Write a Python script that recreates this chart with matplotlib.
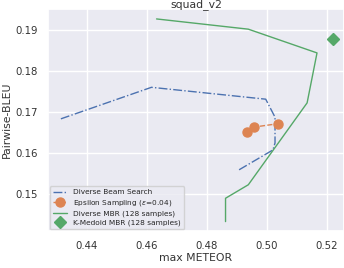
import matplotlib
matplotlib.use("Agg")
import matplotlib.pyplot as plt
import seaborn as sns

sns.set_theme(style="darkgrid")
plt.rcParams["font.family"] = ["DejaVu Sans"]

# Diverse Beam Search
dbs_meteor = [0.4313, 0.4615, 0.4996, 0.5027, 0.5027, 0.5020, 0.4906]
dbs_bleu = [0.1684, 0.1761, 0.1732, 0.1688, 0.1625, 0.1608, 0.1559]

# Epsilon Sampling (eps=0.04)
eps_meteor = [0.4932, 0.4958, 0.5036]
eps_bleu = [0.1653, 0.1664, 0.1672]

# Diverse MBR (128 samples)
dmbr_meteor = [0.4632, 0.4938, 0.5167, 0.5134, 0.4938, 0.4862, 0.4862]
dmbr_bleu = [0.1928, 0.1903, 0.1845, 0.1723, 0.1523, 0.1490, 0.1433]

# K-Medoid MBR (128 samples)
kmbr_meteor = [0.5221]
kmbr_bleu = [0.1880]

c = sns.color_palette("deep")

fig = plt.figure(figsize=(3.44, 2.68), dpi=100)
ax = fig.add_axes([0.1395, 0.138, 0.8605, 0.828])

ax.plot(dbs_meteor, dbs_bleu, "-.", color=c[0], lw=1.0, label="Diverse Beam Search")
ax.plot(eps_meteor, eps_bleu, "--o", color=c[1], lw=1.0, markersize=6.5,
        label="Epsilon Sampling ($\\epsilon$=0.04)")
ax.plot(dmbr_meteor, dmbr_bleu, "-", color=c[2], lw=1.0, label="Diverse MBR (128 samples)")
ax.plot(kmbr_meteor, kmbr_bleu, "D", color=c[2], markersize=6,
        label="K-Medoid MBR (128 samples)")

ax.set_xlim(0.427, 0.5257)
ax.set_ylim(0.141, 0.1952)
ax.set_xticks([0.44, 0.46, 0.48, 0.50, 0.52])
ax.set_xticklabels(["0.44", "0.46", "0.48", "0.50", "0.52"])
ax.set_yticks([0.15, 0.16, 0.17, 0.18, 0.19])
ax.tick_params(labelsize=7.3, pad=1.5, labelcolor="#333333")
ax.set_xlabel("max METEOR", fontsize=7.8, labelpad=1, color="#333333")
ax.set_ylabel("Pairwise-BLEU", fontsize=7.8, labelpad=2, color="#333333")
ax.set_title("squad_v2", fontsize=7.8, pad=1.5, color="#333333")
ax.legend(loc="lower left", fontsize=5.3, borderpad=0.4, labelspacing=0.35,
          handlelength=2.0, borderaxespad=0.25)

fig.savefig("out.png", dpi=100)
